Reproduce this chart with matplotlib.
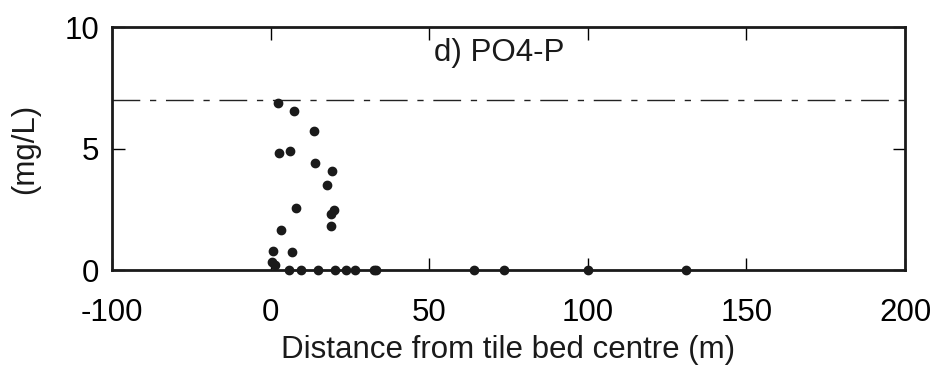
import matplotlib
matplotlib.use("Agg")
from matplotlib import pyplot as plt

# distance from tile bed centre (m) and PO4-P concentration (mg/L)
dist = [2.2, 7.3, 13.6, 2.8, 6.1, 13.9, 19.5, 17.9, 7.9, 19.0, 19.9, 19.0, 3.4,
        0.9, 6.6, 0.4, 1.5,
        5.8, 9.5, 15.1, 20.4, 23.8, 26.7, 32.7, 33.3, 64.0, 73.7, 100.0, 131.0]
conc = [6.86, 6.54, 5.73, 4.80, 4.91, 4.40, 4.10, 3.49, 2.56, 2.33, 2.47, 1.82, 1.65,
        0.78, 0.73, 0.34, 0.20,
        0, 0, 0, 0, 0, 0, 0, 0, 0, 0, 0, 0]
limit = 7.0

xtick_pos = [-50, 0, 50, 100, 150, 200]
xtick_labels = ["-100", "0", "50", "100", "150", "200"]
ytick_pos = [0, 5, 10]

plt.rcParams['font.family'] = ['Liberation Sans', 'DejaVu Sans']

fig = plt.figure(figsize=(9.33, 3.67), dpi=100)
ax = fig.add_axes([0.12, 0.264, 0.850, 0.662])

ax.axhline(limit, color="#222222", lw=1.0, dashes=(20, 7, 4.5, 7))
ax.plot(dist, conc, "o", color="#1a1a1a", ms=6, clip_on=False, zorder=5)

ax.set_xlim(-50, 200)
ax.set_ylim(0, 10)
ax.set_xticks(xtick_pos)
ax.set_xticklabels(xtick_labels)
ax.set_yticks(ytick_pos)

ax.tick_params(axis="x", direction="in", length=9, width=1, top=True, labelsize=22.5, pad=20)
ax.tick_params(axis="y", direction="in", length=9, width=1, right=True, labelsize=22.5, pad=9)
for s in ax.spines.values():
    s.set_linewidth(2)
    s.set_color("#1a1a1a")

ax.text(72, 8.62, "d) PO4-P", fontsize=22.5, ha="center", va="baseline", color="#1a1a1a")
ax.set_xlabel("Distance from tile bed centre (m)", fontsize=22.5, labelpad=5, color="#1a1a1a")
ax.set_ylabel("(mg/L)", fontsize=22.5, labelpad=18, color="#1a1a1a")

fig.savefig("out.png", dpi=100)
